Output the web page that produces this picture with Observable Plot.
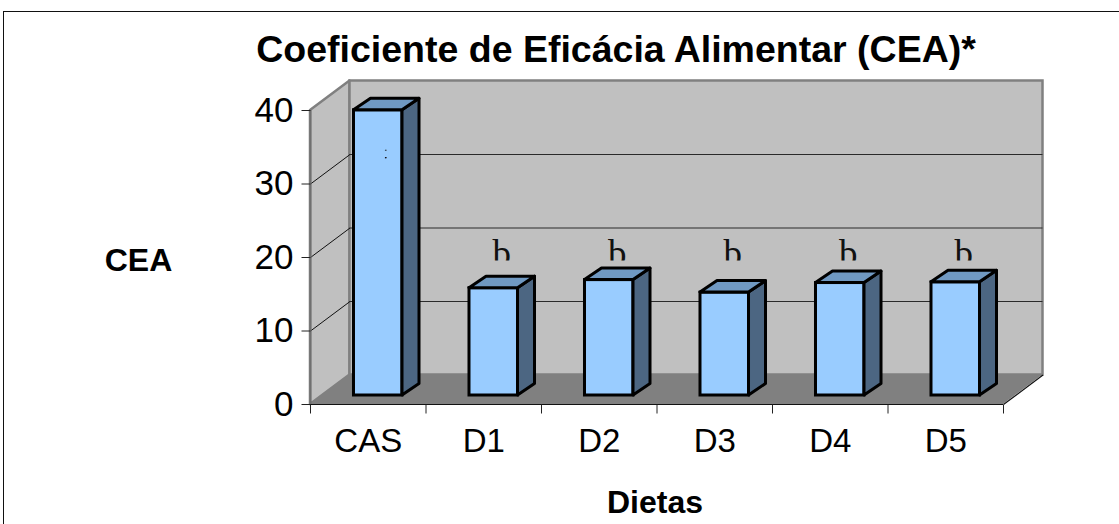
<!DOCTYPE html>
<html>
<head>
<meta charset="utf-8">
<script src="https://cdn.jsdelivr.net/npm/d3@7"></script>
<script src="https://cdn.jsdelivr.net/npm/@observablehq/plot@0.6"></script>
<style>
  body { margin: 0; background: #fff; }
  #wrap { position: relative; width: 1119px; height: 524px; overflow: hidden; background: #fff; }
  #chart { position: absolute; left: 0; top: 0; }
  #border { position: absolute; left: 3px; top: 11px; width: 1300px; height: 700px; border: 1.5px solid #111; pointer-events: none; }
</style>
</head>
<body>
<div id="wrap"><div id="chart"></div><div id="border"></div></div>
<script>
// ---- data ----
const categories = ["CAS", "D1", "D2", "D3", "D4", "D5"];
const values = [38.8, 14.6, 15.7, 14.0, 15.3, 15.4];
const letters = ["a", "b", "b", "b", "b", "b"];
const yTicks = [0, 10, 20, 30, 40];
const title = "Coeficiente de Eficácia Alimentar (CEA)*";
const yLabel = "CEA";
const xLabel = "Dietas";

// ---- layout ----
const W = 1119, H = 524, ML = 310, MR = 116, MT = 110, MB = 120;
const n = categories.length;
const yMax = yTicks[yTicks.length - 1];
const kx = (W - ML - MR) / n;      // px per category
const ky = (H - MT - MB) / yMax;   // px per unit
const wx = 39.5 / kx, wy = 29.5 / ky;  // wall depth in data units
const bx = 17 / kx, by = 11.5 / ky;    // bar depth in data units
const bw0 = 0.29, bw1 = 0.71;          // bar band
const font = "Liberation Sans, Arial, Helvetica, sans-serif";

const bars = categories.map((c, i) => ({i, c, v: values[i], l: letters[i]}));
const sideFaces = bars.flatMap(b => [
  {id: b.i, x: b.i + bw1, y1: 0, y2: b.v},
  {id: b.i, x: b.i + bw1 + bx, y1: by, y2: b.v + by}
]);
const topFaces = bars.flatMap(b => [
  {id: b.i, y: b.v, x1: b.i + bw0, x2: b.i + bw1},
  {id: b.i, y: b.v + by, x1: b.i + bw0 + bx, x2: b.i + bw1 + bx}
]);
const grid = yTicks.filter(t => t > 0 && t < yMax);
const xEdges = d3.range(n + 1);

const chart = Plot.plot({
  width: W, height: H,
  marginLeft: ML, marginRight: MR, marginTop: MT, marginBottom: MB,
  x: {domain: [0, n], axis: null},
  y: {domain: [0, yMax], axis: null},
  style: {background: "transparent", overflow: "visible", fontFamily: font},
  marks: [
    // left wall
    Plot.areaY([{x: 0, y1: 0, y2: yMax}, {x: wx, y1: wy, y2: yMax + wy}],
      {x: "x", y1: "y1", y2: "y2", fill: "#c0c0c0", stroke: "#808080", strokeWidth: 2.5}),
    // back wall
    Plot.rect([0], {x1: wx, x2: n + wx, y1: wy, y2: yMax + wy, fill: "#c0c0c0", stroke: "#808080", strokeWidth: 2.5}),
    // floor
    Plot.areaX([{y: 0, x1: 0, x2: n}, {y: wy, x1: wx, x2: n + wx}],
      {y: "y", x1: "x1", x2: "x2", fill: "#808080"}),
    // gridlines on back wall
    Plot.ruleY(grid, {y: d => d + wy, x1: wx, x2: n + wx, stroke: "#2a2a2a", strokeWidth: 1}),
    // gridlines on left wall
    Plot.link(grid, {x1: 0, y1: d => d, x2: wx, y2: d => d + wy, stroke: "#111", strokeWidth: 1}),
    // front axis lines
    Plot.ruleY([0], {x1: 0, x2: n, stroke: "#111", strokeWidth: 1.2}),
    Plot.link([0], {x1: n, y1: 0, x2: n + wx, y2: wy, stroke: "#111", strokeWidth: 1.2}),
    Plot.ruleX([0], {y1: 0, y2: yMax, stroke: "#707070", strokeWidth: 2}),
    // y ticks + labels
    Plot.link(yTicks, {x1: -9 / kx, x2: 0, y1: d => d, y2: d => d, stroke: "#222", strokeWidth: 1}),
    Plot.text(yTicks, {x: 0, y: d => d, text: d => String(d), dx: -17, textAnchor: "end",
      fontSize: 35, fill: "#000", fontFamily: font}),
    // x ticks + labels
    Plot.link(xEdges, {x1: d => d, x2: d => d, y1: 0, y2: -9 / ky, stroke: "#222", strokeWidth: 1}),
    Plot.text(bars, {x: d => d.i + 0.5, y: 0, text: "c", dy: 37, fontSize: 33, fill: "#000", fontFamily: font}),
    // bars: front, side, top
    Plot.rect(bars, {x1: d => d.i + bw0, x2: d => d.i + bw1, y1: 0, y2: "v", dx: 10, dy: -9,
      fill: "#99ccff", stroke: "#000", strokeWidth: 3}),
    Plot.areaY(sideFaces, {x: "x", y1: "y1", y2: "y2", z: "id", dx: 10, dy: -9,
      fill: "#4c6682", stroke: "#000", strokeWidth: 3}),
    Plot.areaX(topFaces, {y: "y", x1: "x1", x2: "x2", z: "id", dx: 10, dy: -9,
      fill: "#7099c2", stroke: "#000", strokeWidth: 3}),
    // significance letters
    Plot.text(bars, {x: d => d.i + 0.5, y: d => d.v > 25 ? d.v - 6.5 : 18.8, text: "l", dx: 18,
      lineAnchor: "bottom", fontSize: 37, fill: "#111", fontFamily: "Liberation Serif, Times New Roman, serif"}),
    // titles
    Plot.text([title], {frameAnchor: "top", lineAnchor: "middle", dx: -41, dy: -61, fontSize: 37.5, fontWeight: "bold", fill: "#000", fontFamily: font}),
    Plot.text([yLabel], {frameAnchor: "left", lineAnchor: "middle", dx: -172, dy: 3, textAnchor: "middle", fontSize: 32, fontWeight: "bold", fill: "#000", fontFamily: font}),
    Plot.text([xLabel], {frameAnchor: "bottom", lineAnchor: "middle", dx: -2, dy: 98, fontSize: 32, fontWeight: "bold", fill: "#000", fontFamily: font})
  ]
});
document.getElementById("chart").appendChild(chart);

// partially hide the letters (as in the original, where they are cut off)
const svg = d3.select(chart);
const defs = svg.append("defs");
svg.selectAll("text")
  .filter(function() { return letters.includes(this.textContent); })
  .each(function(d, k) {
    const b = this.getBBox();
    const id = "cut" + k;
    const cp = defs.append("clipPath").attr("id", id).attr("clipPathUnits", "userSpaceOnUse");
    if (this.textContent === "a") {
      cp.append("rect").attr("x", b.x + b.width * 0.42).attr("y", b.y + b.height * 0.38)
        .attr("width", b.width * 0.1).attr("height", b.height * 0.3);
    } else {
      cp.append("rect").attr("x", b.x - 5).attr("y", b.y).attr("width", b.width + 10)
        .attr("height", b.height * 0.66);
    }
    this.setAttribute("clip-path", `url(#${id})`);
  });
</script>
</body>
</html>
